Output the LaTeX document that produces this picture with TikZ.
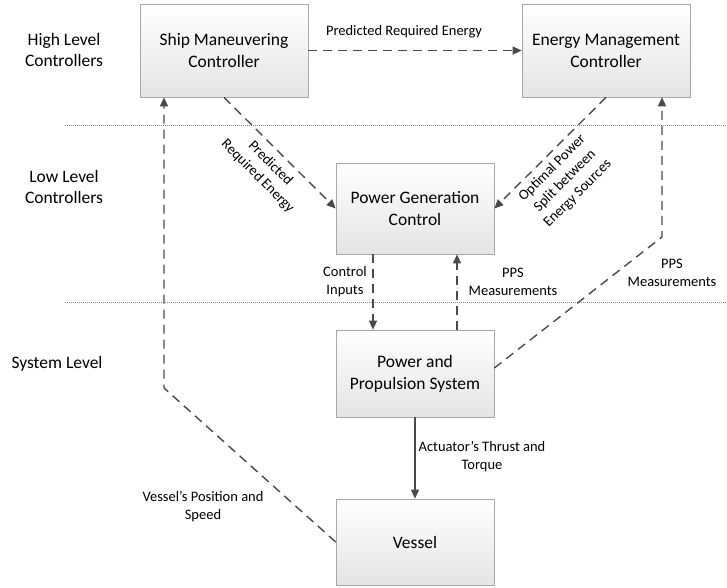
\documentclass[tikz,border=0pt]{standalone}
\usepackage{fontspec}
\setmainfont{Carlito}
\usetikzlibrary{arrows.meta,shadows}
\definecolor{linecol}{HTML}{4A4A4A}
\definecolor{boxedge}{HTML}{A8A8A8}
\definecolor{boxbottom}{HTML}{E4E4E4}
\definecolor{sepcol}{HTML}{8C8C8C}
\tikzset{
  block/.style={draw=boxedge, line width=0.7pt, top color=white, bottom color=boxbottom,
    minimum width=#1, align=center, inner sep=2pt,
    font=\fontsize{17.5}{22}\selectfont,
    drop shadow={shadow xshift=1.2pt, shadow yshift=-1.2pt, opacity=0.25, fill=black}},
  levelname/.style={align=center, font=\fontsize{17.5}{21}\selectfont},
  lbl/.style={align=center, font=\fontsize{14.5}{18}\selectfont, inner sep=0pt},
  flow/.style={draw=linecol, line width=1.4pt, dash pattern=on 9pt off 6pt,
    -{Triangle[length=9pt,width=8pt]}},
  solidflow/.style={draw=linecol, line width=1.4pt, -{Triangle[length=9pt,width=8pt]}},
  separator/.style={draw=sepcol, line width=0.6pt, dash pattern=on 1pt off 1pt},
}
\begin{document}
\begin{tikzpicture}[x=1pt,y=-1pt]
\useasboundingbox (0,0) rectangle (727,588);

% level separators
\draw[separator] (65,125) -- (727,125);
\draw[separator] (65,302) -- (727,302);

% level names
\node[levelname] (lvhigh) at (64,50) {High Level\\Controllers};
\node[levelname] (lvlow) at (64,187) {Low Level\\Controllers};
\node[levelname] (lvsys) at (57,364) {System Level};

% blocks
\node[block=168pt, minimum height=93pt] (ship) at (224,50.5) {Ship Maneuvering\\Controller};
\node[block=168pt, minimum height=93pt] (ems) at (606,50.5) {Energy Management\\Controller};
\node[block=158pt, minimum height=91pt] (pgc) at (415,208.5) {Power Generation\\Control};
\node[block=158pt, minimum height=87pt] (pps) at (415,373.5) {Power and\\Propulsion System};
\node[block=158pt, minimum height=86pt] (vessel) at (415,542) {Vessel};

% bend points of the feedback paths
\coordinate (ppsbend) at (662,237);
\coordinate (vesbend) at (164,388);

% connectors
\draw[flow] (ship.east) -- (ems.west);
\draw[flow] (ship.south) -- (pgc.west);
\draw[flow] (ems.south) -- (pgc.east);
\draw[flow] ([xshift=-42pt]pgc.south) -- ([xshift=-42pt]pps.north);
\draw[flow] ([xshift=42pt]pps.north) -- ([xshift=42pt]pgc.south);
\draw[flow] ([yshift=5.5pt]pps.east) -- (ppsbend) -- (ppsbend |- ems.south);
\draw[flow] (vessel.west) -- (vesbend) -- (vesbend |- ship.south);
\draw[solidflow] (pps.south) -- (vessel.north);

% connector labels
\node[lbl] (l1) at (404,32) {Predicted Required Energy};
\node[lbl, rotate=-45] (l2) at (264,170) {Predicted\\Required Energy};
\node[lbl, rotate=45] (l3) at (565,181) {Optimal Power\\Split between\\Energy Sources};
\node[lbl] (l4) at (345,282) {Control\\Inputs};
\node[lbl] (l5) at (513,282) {PPS\\Measurements};
\node[lbl] (l6) at (672,273) {PPS\\Measurements};
\node[lbl] (l7) at (482,457) {Actuator’s Thrust and\\Torque};
\node[lbl] (l8) at (203,507) {Vessel’s Position and\\Speed};
\end{tikzpicture}
\end{document}
